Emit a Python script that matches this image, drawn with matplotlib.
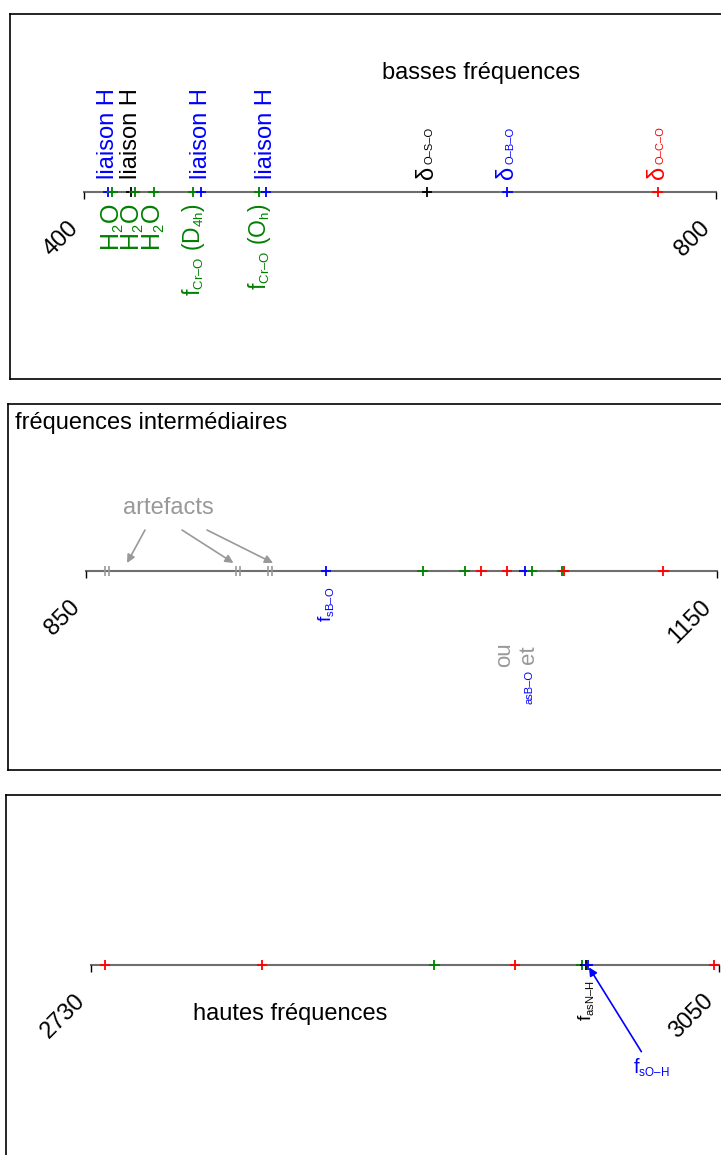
import matplotlib
matplotlib.use("Agg")
import matplotlib.pyplot as plt
import matplotlib._mathtext as mathtext_mod
from matplotlib.path import Path
from matplotlib.transforms import offset_copy

plt.rcParams["font.family"] = ["Liberation Sans", "DejaVu Sans"]
plt.rcParams["mathtext.fontset"] = "custom"
plt.rcParams["mathtext.rm"] = "Liberation Sans"
plt.rcParams["mathtext.it"] = "Liberation Sans:italic"
plt.rcParams["mathtext.bf"] = "Liberation Sans:bold"
# indices plus petits que le 0.7 par defaut
mathtext_mod.SHRINK_FACTOR = 0.58

BLUE, GREEN, RED, BLACK, GREY = "#0000ff", "#008000", "#ff0000", "black", "#999999"

# --- basses fréquences (cm-1) ---
low_range = (400, 800)
low_pos = [415, 418, 430, 432, 444, 469, 474, 511, 515, 617, 668, 763]
low_col = [BLUE, GREEN, BLACK, GREEN, GREEN, GREEN, BLUE, GREEN, BLUE, BLACK, BLUE, RED]
liaison_pos = [415, 430, 474, 515]
liaison_col = [BLUE, BLACK, BLUE, BLUE]
delta_pos = [617, 668, 763]
delta_sub = ["O–S–O", "O–B–O", "O–C–O"]
delta_col = [BLACK, BLUE, RED]
water_pos = [418, 431, 444]
cro_pos = [469, 511]
cro_txt = [r"f$_{\mathrm{Cr–O}}$ (D$_{\mathrm{4h}}$)", r"f$_{\mathrm{Cr–O}}$ (O$_{\mathrm{h}}$)"]

# --- fréquences intermédiaires ---
mid_range = (850, 1150)
mid_artefacts = [860, 922.5, 937.5]
mid_pos = [964, 1010, 1030, 1038, 1050, 1058.5, 1062, 1076.5, 1077.2, 1124.5]
mid_col = [BLUE, GREEN, GREEN, RED, RED, BLUE, GREEN, GREEN, RED, RED]

# --- hautes fréquences ---
high_range = (2730, 3050)
high_pos = [2737, 2817, 2905, 2946, 2980, 2982, 2983, 3047.5]
high_col = [RED, RED, GREEN, RED, GREEN, BLACK, BLUE, RED]

W, H = 721, 1155
fig = plt.figure(figsize=(W / 100, H / 100), dpi=100)


def panel(box, axis_px, vrange, row):
    left, top, right, bottom = box
    ax = fig.add_axes([left / W, 1 - bottom / H, (right - left) / W, (bottom - top) / H])
    a0, a1 = axis_px
    v0, v1 = vrange
    s = (a1 - a0) / (v1 - v0)
    ax.set_xlim(v0 - (a0 - left) / s, v1 + (right - a1) / s)
    ax.set_ylim(bottom, top)
    ax.set_xticks([])
    ax.set_yticks([])
    for sp in ax.spines.values():
        sp.set_linewidth(1.2)
        sp.set_color("black")
    ax.plot([v0, v1], [row, row], color="#6e6e6e", lw=1.5, zorder=1)
    ax.vlines([v0, v1], row, row + 7, color="black", lw=1.0, zorder=1)
    for v in (v0, v1):
        ax.annotate(str(v), xy=(v, row), xytext=(-9, -33), textcoords="offset pixels",
                    rotation=45, rotation_mode="anchor", ha="right", va="center",
                    fontsize=17)
    return ax


def label(ax, v, row, txt, color, dy, va, fs=17, dx=0, rot=90):
    ax.annotate(txt, xy=(v, row), xytext=(dx, dy), textcoords="offset pixels",
                rotation=rot, ha="center", va=va, color=color, fontsize=fs)


# panel 1
row1 = 192
ax1 = panel((10, 14, 760, 379), (84, 716), low_range, row1)
ax1.scatter(low_pos, [row1] * len(low_pos), marker="+", c=low_col, s=55, linewidths=1.3, zorder=3)
for v, c in zip(liaison_pos, liaison_col):
    label(ax1, v, row1, "liaison H", c, 13, "bottom")
for v, t, c in zip(delta_pos, delta_sub, delta_col):
    label(ax1, v, row1, "δ", c, 13, "bottom", fs=17)
    label(ax1, v, row1, t, c, 28, "bottom", fs=8, dx=3)
for v in water_pos:
    label(ax1, v, row1, r"H$_{\mathrm{2}}$O", GREEN, -12, "top", fs=18)
for v, t in zip(cro_pos, cro_txt):
    label(ax1, v, row1, t, GREEN, -11, "top", fs=16.5)
fig.text(481 / W, 1 - 73 / H, "basses fréquences", ha="center", va="center", fontsize=17)

# panel 2
row2 = 571
ax2 = panel((8, 404, 760, 770), (86, 717), mid_range, row2)
dbl = Path([(-0.4, -1), (-0.4, 1), (0.4, -1), (0.4, 1)],
           [Path.MOVETO, Path.LINETO, Path.MOVETO, Path.LINETO])
ax2.scatter(mid_artefacts, [row2] * len(mid_artefacts), marker=dbl, color=GREY, s=55,
            linewidths=1.2, zorder=3)
ax2.scatter(mid_pos, [row2] * len(mid_pos), marker="+", c=mid_col, s=55, linewidths=1.3, zorder=3)
label(ax2, mid_pos[0], row2, r"f$_{\mathrm{sB–O}}$", BLUE, -16, "top", fs=14)
label(ax2, mid_pos[5], row2, "ou\net", GREY, -84, "center", fs=16, dx=-8)
label(ax2, mid_pos[5], row2, "asB–O", BLUE, -116, "center", fs=8, dx=5)
fig.text(15 / W, 1 - 412 / H, "fréquences intermédiaires", ha="left", va="top", fontsize=17)
fig.text(168 / W, 1 - 508 / H, "artefacts", ha="center", va="center", fontsize=17, color=GREY)
for v, end_dx, start in zip(mid_artefacts, [20, -5, 3], [(145, 530), (182, 530), (207, 530)]):
    tr = offset_copy(ax2.transData, fig=fig, x=end_dx, y=8, units="dots")
    end_x = ax2.transData.transform((v, row2))[0] + end_dx
    ax2.annotate("", xy=(v, row2), xycoords=tr,
                 xytext=(start[0] - end_x, (row2 - 8) - start[1]), textcoords="offset pixels",
                 arrowprops=dict(arrowstyle="-|>", color=GREY, lw=1.2, mutation_scale=12,
                                 shrinkA=0, shrinkB=0))

# panel 3
row3 = 965
ax3 = panel((6, 795, 760, 1165), (91, 719), high_range, row3)
ax3.scatter(high_pos, [row3] * len(high_pos), marker="+", c=high_col, s=55, linewidths=1.3, zorder=3)
label(ax3, high_pos[5], row3, r"f$_{\mathrm{asN–H}}$", BLACK, -15, "top", fs=14)
ax3.annotate(r"f$_{\mathrm{sO–H}}$", xy=(high_pos[6], row3), xytext=(64, -103),
             textcoords="offset pixels", ha="center", va="center", color=BLUE, fontsize=14.5,
             arrowprops=dict(arrowstyle="-|>", color=BLUE, lw=1.2, mutation_scale=12,
                             shrinkA=2, shrinkB=2))
fig.text(290 / W, 1 - 1014 / H, "hautes fréquences", ha="center", va="center", fontsize=17)

fig.savefig("out.png", dpi=100)
